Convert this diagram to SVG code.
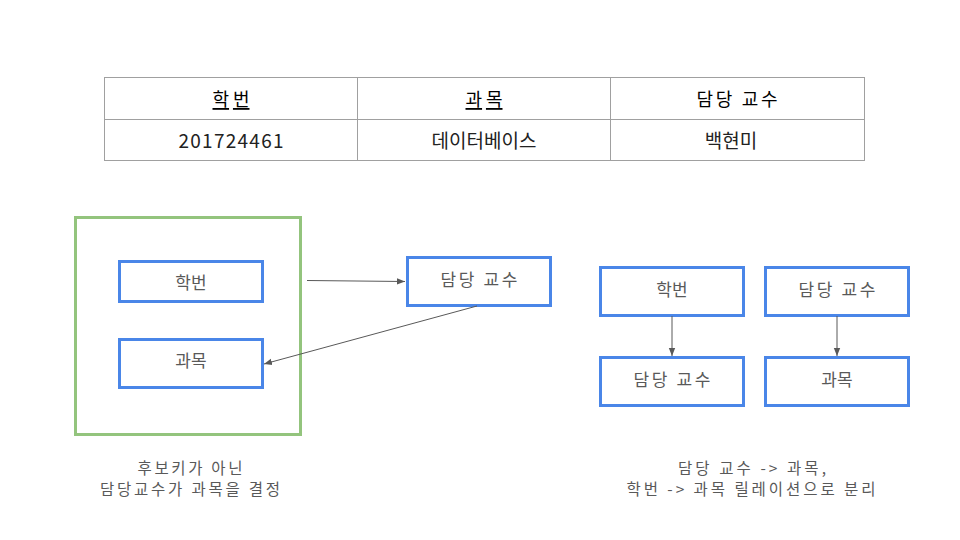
<svg xmlns="http://www.w3.org/2000/svg" width="960" height="540" viewBox="0 0 960 540">
<defs>
<style>
.t{font-family:"Noto Sans CJK KR","Liberation Sans",sans-serif;text-anchor:middle;dominant-baseline:central}
.th{font-size:18px;fill:#000}
.td{font-size:19px;fill:#222}
.nl{font-size:17px;fill:#595959}
.cap{font-size:15.5px;fill:#595959}
.grid{stroke:#a0a0a0;stroke-width:1;fill:none}
.node{fill:#fff;stroke:#4a86e8;stroke-width:3}
.grp{fill:none;stroke:#93c47d;stroke-width:3}
.edge{stroke:#595959;stroke-width:1;fill:none;marker-end:url(#ah)}
</style>
<marker id="ah" viewBox="0 0 10 10" refX="10" refY="5" markerWidth="8" markerHeight="8" markerUnits="userSpaceOnUse" orient="auto">
<path d="M0,1 L10,5 L0,9 Z" fill="#595959"/>
</marker>
</defs>
<rect width="960" height="540" fill="#fff"/>
<g id="table">
<rect class="grid" x="104.5" y="77.5" width="760" height="83"/>
<line class="grid" x1="104" y1="119.5" x2="864" y2="119.5"/>
<line class="grid" x1="357.5" y1="77" x2="357.5" y2="160"/>
<line class="grid" x1="610.5" y1="77" x2="610.5" y2="160"/>
<text class="t th" x="231" y="98" text-decoration="underline" textLength="37" lengthAdjust="spacing">학번</text>
<text class="t th" x="484" y="98" text-decoration="underline" textLength="37" lengthAdjust="spacing">과목</text>
<text class="t th" x="737" y="98" textLength="81" lengthAdjust="spacing">담당 교수</text>
<text class="t td" x="231" y="139.5" textLength="105" lengthAdjust="spacing">201724461</text>
<text class="t td" x="484" y="139.5">데이터베이스</text>
<text class="t td" x="731" y="139.5">백현미</text>
</g>
<g id="candidate-group"><rect class="grp" x="75.5" y="217.5" width="225" height="217"/></g>
<g id="L-hakbeon"><rect class="node" x="119.5" y="261.5" width="143" height="40"/><text class="t nl" x="191" y="281">학번</text></g>
<g id="L-gwamok"><rect class="node" x="119.5" y="339.5" width="143" height="48"/><text class="t nl" x="191" y="359">과목</text></g>
<g id="L-prof"><rect class="node" x="407.5" y="257.5" width="143" height="48"/><text class="t nl" x="479" y="278" textLength="77" lengthAdjust="spacing">담당 교수</text></g>
<g id="R-hakbeon"><rect class="node" x="600.5" y="267.5" width="143" height="48"/><text class="t nl" x="672" y="288">학번</text></g>
<g id="R-prof1"><rect class="node" x="765.5" y="267.5" width="143" height="48"/><text class="t nl" x="837" y="288" textLength="77" lengthAdjust="spacing">담당 교수</text></g>
<g id="R-prof2"><rect class="node" x="600.5" y="357.5" width="143" height="48"/><text class="t nl" x="672" y="378" textLength="77" lengthAdjust="spacing">담당 교수</text></g>
<g id="R-gwamok"><rect class="node" x="765.5" y="357.5" width="143" height="48"/><text class="t nl" x="837" y="378">과목</text></g>
<g id="connectors">
<line class="edge" x1="307" y1="280.5" x2="405" y2="281.5"/>
<line class="edge" x1="477" y1="306" x2="264" y2="364"/>
<line class="edge" x1="672" y1="316" x2="672" y2="356"/>
<line class="edge" x1="837" y1="316" x2="837" y2="356"/>
</g>
<g id="captions">
<text class="t cap" x="190" y="467" textLength="105" lengthAdjust="spacing">후보키가 아닌</text>
<text class="t cap" x="190" y="488" textLength="180" lengthAdjust="spacing">담당교수가 과목을 결정</text>
<text class="t cap" x="752" y="467" textLength="148" lengthAdjust="spacing">담당 교수 -&gt; 과목,</text>
<text class="t cap" x="751" y="488" textLength="249" lengthAdjust="spacing">학번 -&gt; 과목 릴레이션으로 분리</text>
</g>
</svg>
